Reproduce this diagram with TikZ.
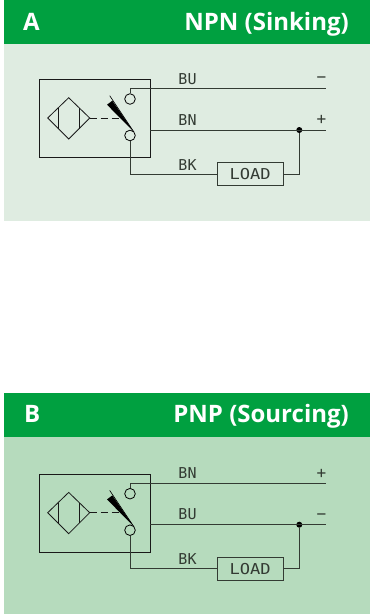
\documentclass[tikz,border=0pt]{standalone}
\usepackage{fontspec}
\setmainfont{Liberation Serif}
\newfontfamily\titlefont{Open Sans}
\newfontfamily\cadfont{DejaVu Sans Mono}
\newfontfamily\loadfont{DejaVu Sans Mono}[FakeStretch=1.14]
\definecolor{hdr}{HTML}{00A040}
\definecolor{lightA}{HTML}{DFECE1}
\definecolor{lightB}{HTML}{B6DBBD}
\definecolor{wire}{HTML}{333B33}
\tikzset{
  wireline/.style={draw=wire,line width=0.85pt},
  outline/.style={draw=black!90,line width=0.8pt},
  contact/.style={circle,draw=black,line width=0.8pt,minimum size=10.6pt,inner sep=0pt},
  sensorbox/.style={rectangle,outline,minimum width=110.5pt,minimum height=78.5pt,inner sep=0pt},
  loadbox/.style={rectangle,wireline,minimum width=66pt,minimum height=23.5pt,inner sep=0pt,font=\loadfont\fontsize{15}{16}\selectfont,text=wire},
  junction/.style={circle,fill=black,minimum size=6pt,inner sep=0pt},
  wirelabel/.style={inner sep=0pt,font=\cadfont\fontsize{15}{16}\selectfont,text=wire},
  polarity/.style={inner sep=0pt,font=\cadfont\fontsize{16}{17}\selectfont,text=wire},
  headtitle/.style={inner sep=0pt,text=white,font=\titlefont\bfseries\fontsize{24}{26}\selectfont},
}
\newcommand{\wiring}[4]{%
 \begin{scope}[shift={(0,#1)},name prefix=#2-]
  \node[sensorbox] (box) at (94.75,-118.5) {};
  \node[contact] (c1) at (130,-99) {};
  \node[contact] (c2) at (130,-135.5) {};
  \coordinate (e1) at (325.7,-88.7);
  \coordinate (e2) at (325.7,-130);
  \coordinate (m2) at (150,-130);
  \coordinate (t1) at (130,-88.7);
  \coordinate (b1) at (130,-174);
  \coordinate (r1) at (299.3,-174);
  \node[junction] (j) at (299.3,-130) {};
  \node[loadbox] (load) at (250.2,-174) {LOAD};
  \draw[wireline] (c1.north) -- (t1) -- (e1);
  \draw[wireline] (m2) -- (e2);
  \draw[wireline] (c2.south) -- (b1) -- (load.west);
  \draw[wireline] (load.east) -- (r1) -- (j);
  \coordinate (dl) at (47.7,-118);
  \coordinate (dt) at (68.7,-97.7);
  \coordinate (dr) at (89.7,-118);
  \coordinate (db) at (68.7,-139);
  \draw[outline] (dl) -- (dt) -- (dr) -- (db) -- cycle;
  \draw[outline] (58.3,-107.8) -- (58.3,-128.5);
  \draw[outline] (79,-107.8) -- (79,-128.5);
  \draw[outline,dash pattern=on 7pt off 4pt] (dr) -- (120,-118);
  \fill[black] (107,-104.7) -- (112.3,-100.7) -- (133.7,-131.7) -- cycle;
  \draw[black,line width=0.6pt] (109.7,-95.7) -- (133.7,-131.7);
  \node[wirelabel,anchor=base] (l1) at (187.5,-84) {#3};
  \node[wirelabel,anchor=base] (l2) at (187.5,-125) {#4};
  \node[wirelabel,anchor=base] (l3) at (187.5,-170) {BK};
 \end{scope}}
\begin{document}
\begin{tikzpicture}[x=1pt,y=1pt]
\useasboundingbox (0,0) rectangle (370,-614);
\fill[white] (0,0) rectangle (370,-614);
\fill[hdr] (4,0) rectangle (370,-44);
\fill[lightA] (4,-44) rectangle (370,-221);
\fill[hdr] (4,-393) rectangle (370,-437);
\fill[lightB] (4,-437) rectangle (370,-614);
\node[headtitle,anchor=base west] (ta) at (23,-30) {A};
\node[headtitle,anchor=base east] (tan) at (349,-30) {NPN (Sinking)};
\node[headtitle,anchor=base west] (tb) at (24,-422.7) {B};
\node[headtitle,anchor=base east] (tbn) at (349,-422.7) {PNP (Sourcing)};
\wiring{0}{a}{BU}{BN}
\node[polarity] (ap1) at (321.5,-80) {−};
\node[polarity] (ap2) at (321.5,-120) {+};
\wiring{-394.7}{b}{BN}{BU}
\node[polarity] (bp1) at (321.5,-474) {+};
\node[polarity] (bp2) at (321.5,-516.5) {−};
\end{tikzpicture}
\end{document}
